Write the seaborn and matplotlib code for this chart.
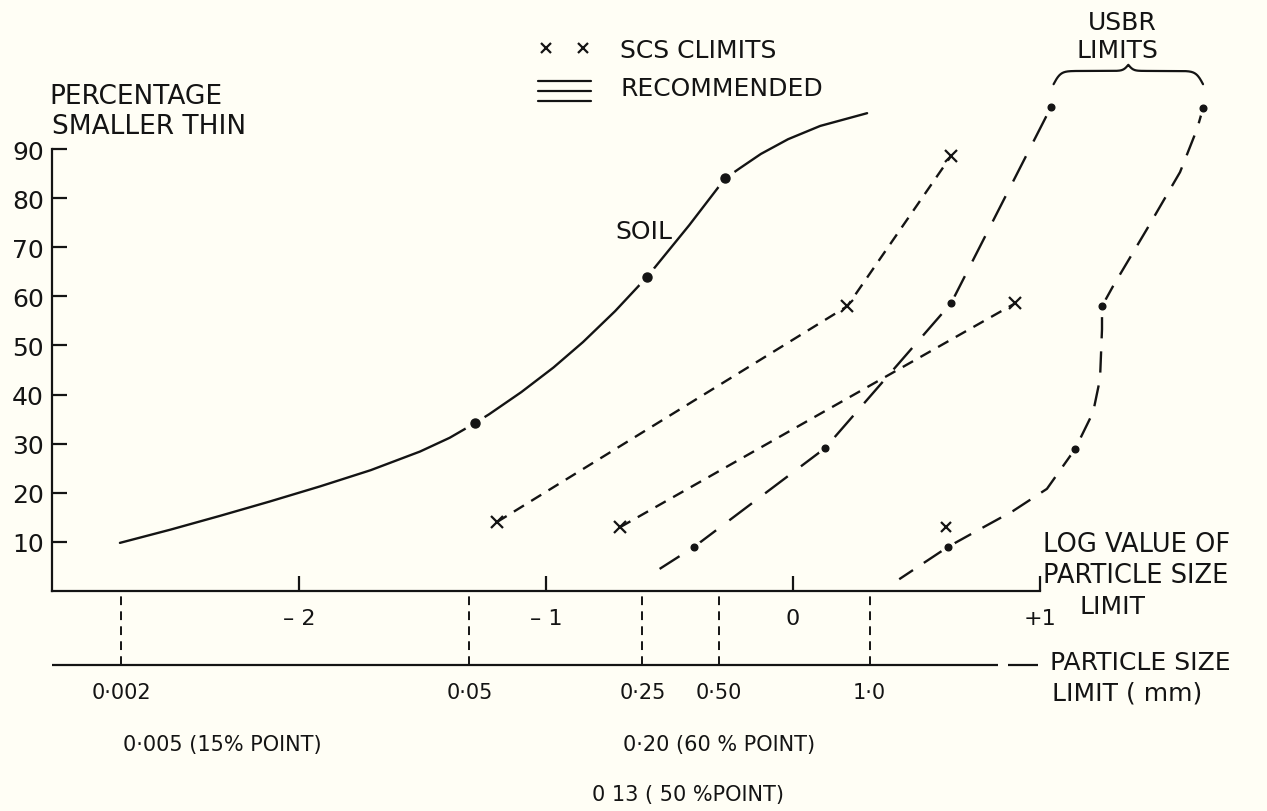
import numpy as np
import pandas as pd
import matplotlib
matplotlib.use("Agg")
import matplotlib.pyplot as plt
from matplotlib.lines import Line2D
from matplotlib.legend_handler import HandlerBase
import seaborn as sns

# ---------------- data ----------------
# x = log10 particle size position, y = percentage smaller than
soil_x = [-2.725, -2.52, -2.32, -2.12, -1.915, -1.71, -1.51, -1.39, -1.287, -1.23,
          -1.10, -0.97, -0.85, -0.72, -0.59, -0.42, -0.275, -0.215, -0.13, -0.02, 0.11, 0.30]
soil_y = [9.8, 12.5, 15.3, 18.2, 21.3, 24.6, 28.4, 31.2, 34.2, 36.0,
          40.5, 45.5, 50.7, 57.0, 64.0, 74.5, 84.0, 86.1, 89.0, 92.0, 94.7, 97.3]
soil_pts_x = [-1.287, -0.59, -0.275]
soil_pts_y = [34.2, 64.0, 84.0]

scs_upper_x = [-1.20, 0.22, 0.64]
scs_upper_y = [14.0, 58.0, 88.6]
scs_lower_x = [-0.70, 0.90]
scs_lower_y = [13.0, 58.6]
scs_single_x = [0.62]
scs_single_y = [13.0]

usbr_left_x = [-0.54, -0.40, 0.13, 0.64, 1.045]
usbr_left_y = [4.5, 9.0, 29.1, 58.6, 98.6]
usbr_left_pts_x = [-0.40, 0.13, 0.64, 1.045]
usbr_left_pts_y = [9.0, 29.1, 58.6, 98.6]

usbr_right_x = [0.43, 0.628, 0.757, 0.891, 1.028, 1.142, 1.215, 1.243, 1.251, 1.251, 1.296, 1.433, 1.567, 1.636, 1.660]
usbr_right_y = [2.4, 9.0, 12.6, 16.3, 20.8, 28.9, 36.4, 43.2, 53.3, 58.0, 62.1, 73.7, 85.3, 94.1, 98.3]
usbr_right_pts_x = [0.628, 1.142, 1.251, 1.660]
usbr_right_pts_y = [9.0, 28.9, 58.0, 98.3]

y_ticks = [10, 20, 30, 40, 50, 60, 70, 80, 90]
log_ticks = [-2, -1, 0, 1]
log_tick_labels = ["– 2", "– 1", "0", "+1"]
size_positions = [-2.72, -1.31, -0.61, -0.30, 0.31]
size_labels = ["0·002", "0·05", "0·25", "0·50", "1·0"]

# ---------------- style ----------------
BG = "#fffef5"
INK = "#141414"
sns.set_theme(style="ticks")
plt.rcParams["font.family"] = ["DejaVu Sans"]
plt.rcParams["axes.facecolor"] = BG
plt.rcParams["figure.facecolor"] = BG

fig = plt.figure(figsize=(12.67, 8.12), dpi=100)
ax = fig.add_axes([52 / 1267, 220 / 812, 1215 / 1267, 592 / 812])
ax.set_xlim(-3.0, 1.919)
ax.set_ylim(0, 120.55)
ax.patch.set_alpha(0)

lw = 1.7

# soil curve (solid, gaps at points)
df = pd.DataFrame({"x": soil_x, "y": soil_y})
sns.lineplot(data=df, x="x", y="y", sort=False, estimator=None, color=INK, lw=lw, ax=ax)
ax.plot(soil_pts_x, soil_pts_y, ls="none", marker="o", ms=15, color=BG, zorder=3)
ax.plot(soil_pts_x, soil_pts_y, ls="none", marker="o", ms=6.5, color=INK, zorder=4)

# SCS limits (short dashes with x markers)
for xs, ys in [(scs_upper_x, scs_upper_y), (scs_lower_x, scs_lower_y)]:
    d = pd.DataFrame({"x": xs, "y": ys})
    sns.lineplot(data=d, x="x", y="y", sort=False, estimator=None, color=INK, lw=lw,
                 linestyle=(0, (5, 3.6)), ax=ax)
    ax.plot(xs, ys, ls="none", marker="x", ms=8, mew=1.6, color=INK, zorder=4)
ax.plot(scs_single_x, scs_single_y, ls="none", marker="x", ms=7, mew=1.6, color=INK, zorder=4)

# USBR limits (long dashes with dot markers)
for xs, ys, px, py, dash in [(usbr_left_x, usbr_left_y, usbr_left_pts_x, usbr_left_pts_y, (12, 7)),
                              (usbr_right_x, usbr_right_y, usbr_right_pts_x, usbr_right_pts_y, (9, 5.5))]:
    d = pd.DataFrame({"x": xs, "y": ys})
    sns.lineplot(data=d, x="x", y="y", sort=False, estimator=None, color=INK, lw=lw,
                 linestyle=(2, dash), ax=ax, clip_on=False)
    ax.plot(px, py, ls="none", marker="o", ms=10, color=BG, zorder=3, clip_on=False)
    ax.plot(px, py, ls="none", marker="o", ms=4.8, color=INK, zorder=4, clip_on=False)

# ---------------- axes ----------------
for s in ["top", "right"]:
    ax.spines[s].set_visible(False)
ax.spines["left"].set_bounds(0, 90)
ax.spines["bottom"].set_bounds(-3, 1)
for s in ["left", "bottom"]:
    ax.spines[s].set_linewidth(1.6)
    ax.spines[s].set_color(INK)
ax.set_yticks(y_ticks)
ax.set_yticklabels([str(v) for v in y_ticks])
ax.set_xticks(log_ticks)
ax.set_xticklabels(log_tick_labels)
ax.tick_params(axis="y", direction="in", length=11, width=1.6, pad=6, labelsize=18, colors=INK)
ax.tick_params(axis="x", direction="in", length=11, width=1.6, pad=12, labelsize=16, colors=INK)
ax.set_xlabel("")
ax.set_ylabel("")

# particle size scale below the log axis
y_low = -15.1
ax.vlines(size_positions, y_low, 0, colors=INK, lw=1.4, linestyles=(0, (4.5, 3.2)), clip_on=False)
ax.hlines(y_low, -3.0, 0.83, colors=INK, lw=1.6, clip_on=False)
ax.hlines(y_low, 0.87, 0.99, colors=INK, lw=1.6, clip_on=False)
for p, lab in zip(size_positions, size_labels):
    ax.text(p, -20.6, lab, ha="center", va="center", fontsize=15, color=INK, clip_on=False)

ax.text(-2.31, -31.2, "0·005 (15% POINT)", ha="center", va="center", fontsize=15, color=INK, clip_on=False)
ax.text(-0.30, -31.2, "0·20 (60 % POINT)", ha="center", va="center", fontsize=15, color=INK, clip_on=False)
ax.text(-0.425, -41.3, "0 13 ( 50 %POINT)", ha="center", va="center", fontsize=15, color=INK, clip_on=False)

ax.text(1.04, -14.5, "PARTICLE SIZE", ha="left", va="center", fontsize=18, color=INK, clip_on=False)
ax.text(1.05, -20.6, "LIMIT ( mm)", ha="left", va="center", fontsize=18, color=INK, clip_on=False)

ax.text(1.012, 9.6, "LOG VALUE OF", ha="left", va="center", fontsize=18.5, color=INK)
ax.text(1.012, 3.2, "PARTICLE SIZE", ha="left", va="center", fontsize=18.5, color=INK)
ax.text(1.16, -3.1, "LIMIT", ha="left", va="center", fontsize=18, color=INK, clip_on=False)

# axis title
ax.text(-3.01, 100.8, "PERCENTAGE", ha="left", va="center", fontsize=19, color=INK)
ax.text(-3.0, 94.7, "SMALLER THIN", ha="left", va="center", fontsize=19, color=INK)

ax.text(-0.72, 73.4, "SOIL", ha="left", va="center", fontsize=18, color=INK)

# USBR brace label
x0, x1 = usbr_left_x[-1] + 0.01, usbr_right_x[-1]
u = np.linspace(x0, x1, 401)
mid = 0.5 * (x0 + x1)
beta = 70.0
sig = lambda z: 1.0 / (1.0 + np.exp(-z))
half = np.where(u <= mid, u - x0, x1 - u)
yb = 103.2 + 2.7 * (2 * sig(beta * half) - 1) + 1.25 * 2 * sig(beta * 1.4 * (np.abs(u - mid) * -1))
ax.plot(u, yb, color=INK, lw=1.6, clip_on=False)
ax.text(1.332, 115.8, "USBR", ha="center", va="center", fontsize=18, color=INK)
ax.text(1.313, 110.2, "LIMITS", ha="center", va="center", fontsize=18, color=INK)

# ---------------- legend ----------------
class TripleLine(HandlerBase):
    def create_artists(self, legend, orig_handle, xdescent, ydescent, width, height, fontsize, trans):
        arts = []
        for f in (-0.34, 0.23, 0.8):
            arts.append(Line2D([-xdescent, -xdescent + width], [-ydescent + f * height] * 2,
                               color=INK, lw=1.6, transform=trans))
        return arts

h_scs = Line2D([], [], ls="none", marker="x", ms=7, mew=1.6, color=INK)
h_rec = Line2D([], [], color=INK)
leg = fig.legend([h_scs, h_rec], ["SCS CLIMITS", "RECOMMENDED"],
                 handler_map={h_rec: TripleLine()}, loc="upper left",
                 bbox_to_anchor=(538 / 1267, 1 - 39 / 812), frameon=False, fontsize=18,
                 numpoints=2, handlelength=2.1, handletextpad=1.2, labelspacing=0.55,
                 borderpad=0, borderaxespad=0)
for t in leg.get_texts():
    t.set_color(INK)

fig.savefig("out.png", dpi=100, facecolor=BG)
